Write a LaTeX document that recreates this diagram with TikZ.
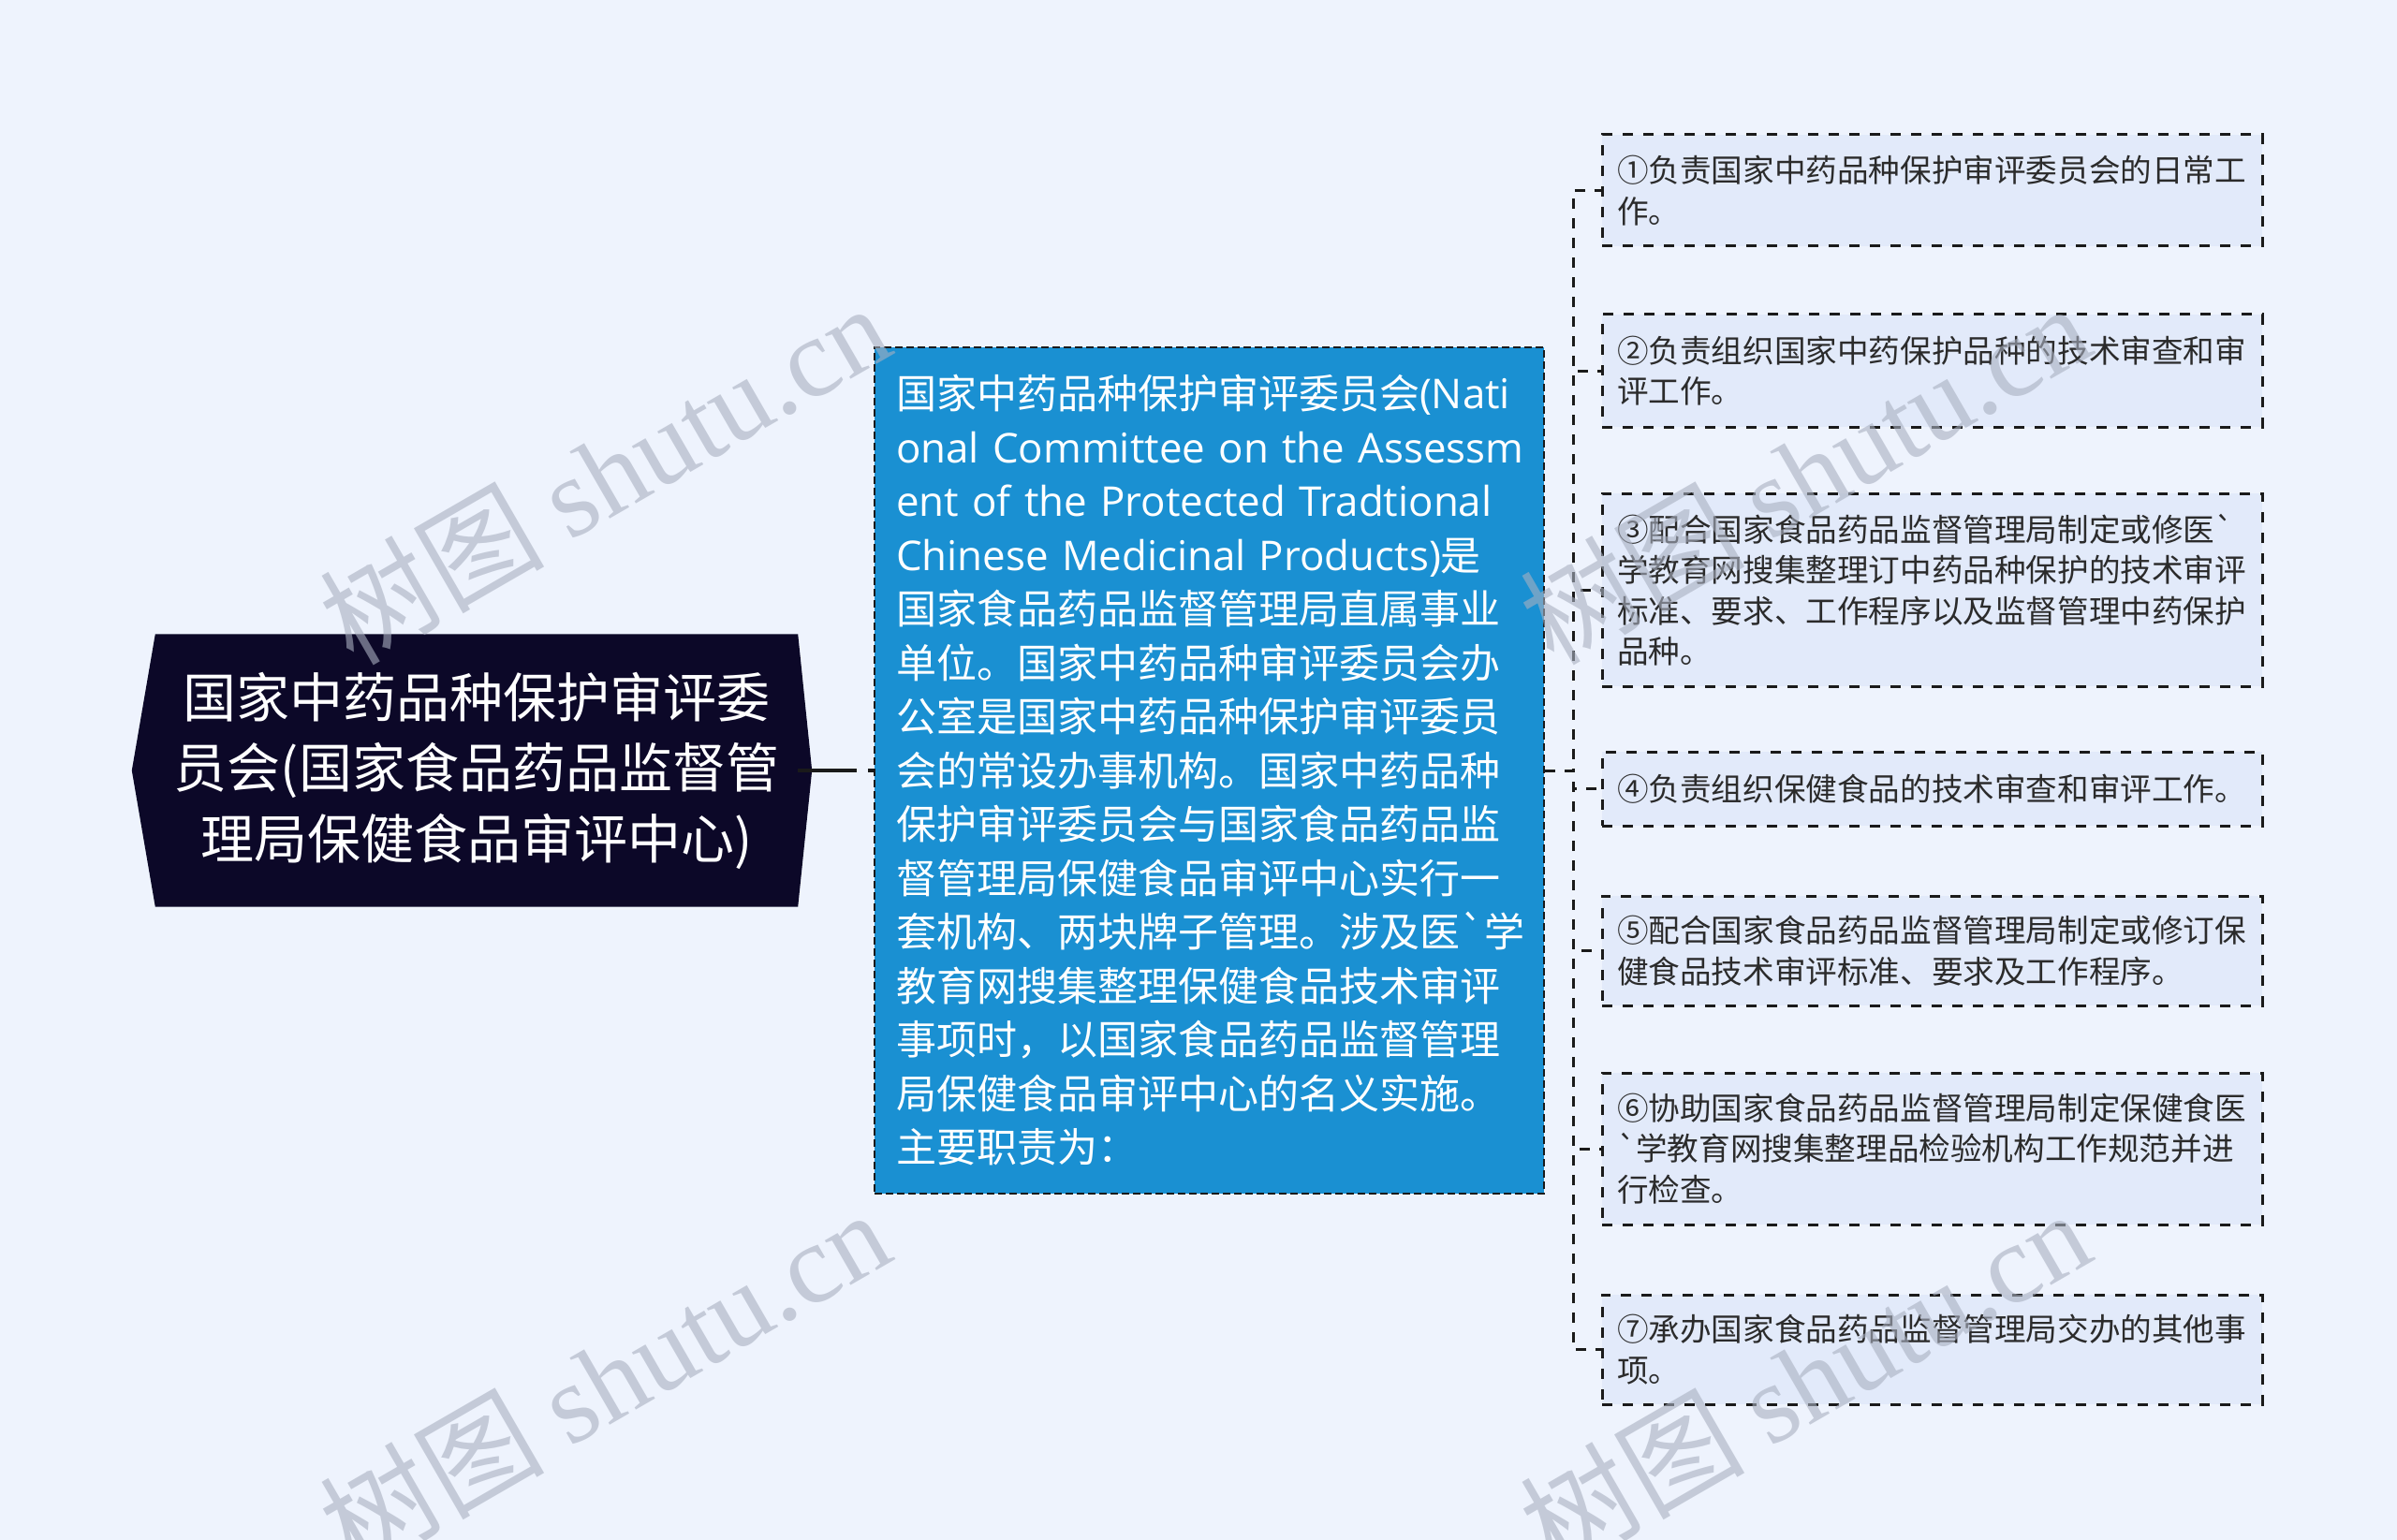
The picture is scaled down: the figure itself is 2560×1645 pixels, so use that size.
\documentclass[tikz,border=0pt]{standalone}
\usepackage{fontspec}
\setmainfont{Noto Sans CJK SC}[Ligatures=TeXOff]
\newfontfamily\lat{Open Sans}[Scale=1.02,Ligatures=TeXOff]
\newfontfamily\wmserif{Liberation Serif}
\usetikzlibrary{backgrounds}
\definecolor{bgc}{HTML}{EEF3FD}
\definecolor{rootc}{HTML}{0C0828}
\definecolor{midc}{HTML}{1A90D2}
\definecolor{leafc}{HTML}{E2EAFA}
\definecolor{linec}{HTML}{1A1A1A}
\definecolor{txtc}{HTML}{2B2B2B}
\definecolor{wmc}{HTML}{A9B0C0}
\begin{document}
\begin{tikzpicture}[x=1pt,y=-1pt,
  rootbox/.style={minimum width=686pt, minimum height=291pt, inner sep=0pt, align=center, text=white, font=\fontsize{57}{75.5}\selectfont},
  midbox/.style={fill=midc, draw=linec, line width=2.5pt, dash pattern=on 8pt off 4pt, minimum height=904pt, inner xsep=23pt, inner ysep=0pt, text width=669pt, align=left, text=white, font=\fontsize{43}{57.5}\selectfont},
  leaf/.style={fill=leafc, draw=linec, line width=3pt, dash pattern=on 11pt off 11pt, inner xsep=16pt, inner ysep=0pt, text width=673pt, align=left, text=txtc, font=\fontsize{33.6}{43.5}\selectfont},
  conn/.style={draw=linec, line width=3pt, dash pattern=on 11pt off 10pt},
  rootconn/.style={draw=linec, line width=4pt, dash pattern=on 63pt off 12pt on 30pt off 12pt},
  wm/.style={text=wmc, opacity=0.6, rotate=30, font=\fontsize{120}{120}\selectfont, inner sep=0pt}
]
\useasboundingbox (0,0) rectangle (2560,1645);

% root
\node[rootbox] (root) at (509,823) {国家中药品种保护审评委\\员会(国家食品药品监督管\\理局保健食品审评中心)};

% middle
\node[midbox] (mid) at (1291.5,823) {\mbox{国家中药品种保护审评委员会{\lat(Nati}}\\
\mbox{\lat onal Committee on the Assessm}\\
\mbox{\lat ent of the Protected Tradtional}\\
\mbox{{\lat Chinese Medicinal Products)}是}\\
国家食品药品监督管理局直属事业\\
单位。国家中药品种审评委员会办\\
公室是国家中药品种保护审评委员\\
会的常设办事机构。国家中药品种\\
保护审评委员会与国家食品药品监\\
督管理局保健食品审评中心实行一\\
\mbox{套机构、两块牌子管理。涉及医`学}\\
教育网搜集整理保健食品技术审评\\
事项时，以国家食品药品监督管理\\
局保健食品审评中心的名义实施。\\
主要职责为：};

% leaves
\node[leaf, minimum height=119pt] (c1) at (2063.5,203.5) {①负责国家中药品种保护审评委员会的日常工\\作。};
\node[leaf, minimum height=120pt] (c2) at (2063.5,396) {②负责组织国家中药保护品种的技术审查和审\\评工作。};
\node[leaf, minimum height=206pt] (c3) at (2063.5,630) {③配合国家食品药品监督管理局制定或修医`\\学教育网搜集整理订中药品种保护的技术审评\\标准、要求、工作程序以及监督管理中药保护\\品种。};
\node[leaf, minimum height=79pt] (c4) at (2063.5,842.5) {④负责组织保健食品的技术审查和审评工作。};
\node[leaf, minimum height=117pt] (c5) at (2063.5,1015.5) {⑤配合国家食品药品监督管理局制定或修订保\\健食品技术审评标准、要求及工作程序。};
\node[leaf, minimum height=162pt] (c6) at (2063.5,1227) {⑥协助国家食品药品监督管理局制定保健食医\\`学教育网搜集整理品检验机构工作规范并进\\行检查。};
\node[leaf, minimum height=117pt] (c7) at (2063.5,1441.5) {⑦承办国家食品药品监督管理局交办的其他事\\项。};

\begin{scope}[on background layer]
  \fill[bgc] (0,0) rectangle (2560,1645);
  \fill[rootc] (root.north west) -- (root.north east) -- ([xshift=15pt]root.east) -- (root.south east) -- (root.south west) -- ([xshift=-25pt]root.west) -- cycle;
\end{scope}

% connectors
\coordinate (trunk) at (1680,823);
\draw[rootconn] (root.east) -- (mid.west);
\foreach \c in {c1,c2,c3,c4,c5,c6,c7}{
  \draw[conn] (mid.east) -- (trunk) |- (\c.west);
}

% watermarks
\node[wm] (wm1) at (645,505) {树图 {\wmserif shutu.cn}};
\node[wm] (wm2) at (1927,505) {树图 {\wmserif shutu.cn}};
\node[wm] (wm3) at (645,1473) {树图 {\wmserif shutu.cn}};
\node[wm] (wm4) at (1927,1473) {树图 {\wmserif shutu.cn}};
\end{tikzpicture}
\end{document}
